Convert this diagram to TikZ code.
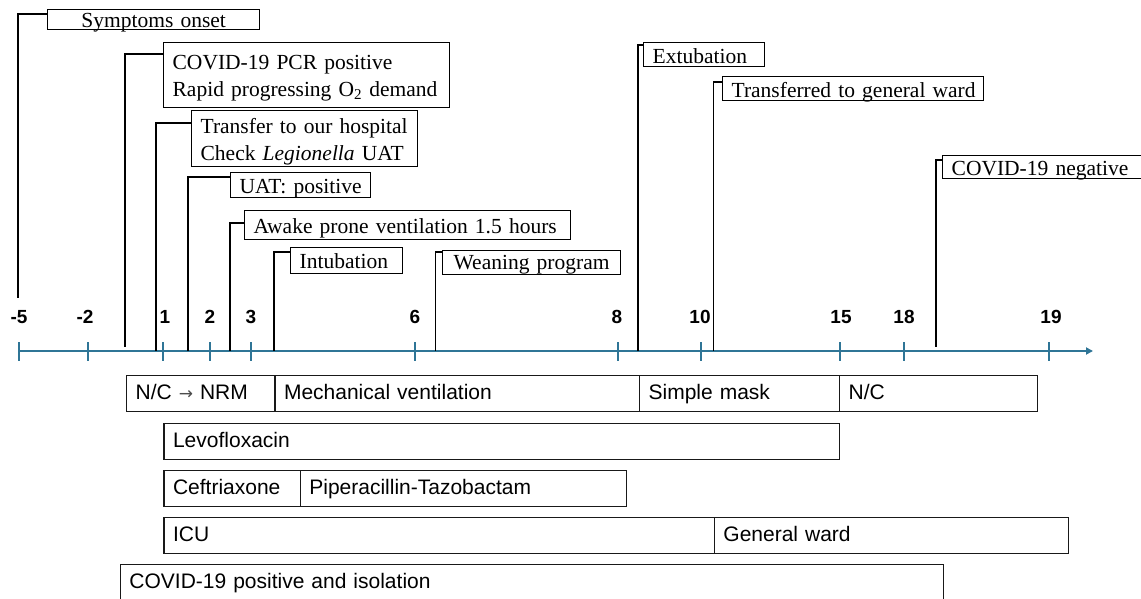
\documentclass[tikz,border=0pt]{standalone}
\usepackage{fontspec}
\setmainfont{Liberation Serif}
\newfontfamily\barfont{Liberation Sans}
\newfontfamily\arrfont{DejaVu Sans}
\usetikzlibrary{arrows.meta}
\definecolor{axisblue}{RGB}{47,117,150}
\begin{document}
\begin{tikzpicture}[x=1pt,y=-1pt,
  evbox/.style={draw=black, line width=1.3pt, anchor=north west, inner ysep=0pt, inner xsep=9pt, align=left, font=\fontsize{21.5}{26.5}\selectfont},
  barbox/.style={draw=black!90, line width=1.3pt, anchor=north west, inner ysep=0pt, inner xsep=9pt, align=left, minimum height=35.5pt, text height=24pt, text depth=11.5pt, font=\barfont\fontsize{21}{25}\selectfont},
  conn/.style={line width=1.2pt, black},
  axisline/.style={axisblue, line width=1.8pt},
  ticklab/.style={font=\barfont\bfseries\fontsize{19}{22}\selectfont, inner sep=0pt}
]
\useasboundingbox (0,0) rectangle (1141,599);

% axis
\coordinate (ax0) at (19,351);
\coordinate (ax1) at (1093,351);
\draw[axisline,-{Triangle[length=7pt,width=7pt]}] (ax0) -- (ax1);
\foreach \x/\lx/\v in {19/19/-5, 88/85/-2, 163/165/1, 210/210/2, 251/251/3, 415/415/6, 618/617/8, 701/700/10, 840/841/15, 904/904/18, 1049/1051/19}{
  \draw[axisline] (\x,342) -- (\x,361);
  \node[ticklab] (lab\x) at (\lx,317) {\v};
}

% event boxes
\node[evbox, align=center, text width=194pt, minimum height=20pt, text height=17.7pt, text depth=2.3pt] (sym) at (47,9) {\mbox{Symptoms onset}};
\node[evbox, text width=268pt, minimum height=65pt, text height=27.3pt, text depth=37.7pt] (pcr) at (163,42) {\mbox{COVID-19 PCR positive}\\\mbox{Rapid progressing O\textsubscript{2} demand}};
\node[evbox, text width=208pt, minimum height=56pt, text height=23.3pt, text depth=32.7pt] (trans) at (191,110) {\mbox{Transfer to our hospital}\\\mbox{Check \textit{Legionella} UAT}};
\node[evbox, text width=122pt, minimum height=25pt, text height=20.7pt, text depth=4.3pt] (uat) at (230,172) {\mbox{UAT: positive}};
\node[evbox, text width=308pt, minimum height=29pt, text height=22.7pt, text depth=6.3pt] (awake) at (244,210) {\mbox{Awake prone ventilation 1.5 hours}};
\node[evbox, text width=94pt, minimum height=26pt, text height=21.3pt, text depth=4.7pt] (intub) at (290,247) {\mbox{Intubation}};
\node[evbox, inner xsep=11pt, text width=156pt, minimum height=24pt, text height=19.3pt, text depth=4.7pt] (wean) at (442,250) {\mbox{Weaning program}};
\node[evbox, text width=103pt, minimum height=24pt, text height=20.7pt, text depth=3.3pt] (extub) at (643,42) {\mbox{Extubation}};
\node[evbox, text width=243pt, minimum height=24pt, text height=20.7pt, text depth=3.3pt] (tgw) at (722,76) {\mbox{Transferred to general ward}};
\node[evbox, text width=185pt, minimum height=23pt, text height=20pt, text depth=3pt] (neg) at (942,155) {\mbox{COVID-19 negative}};

% connector feet
\coordinate (f-sym) at (18,298);
\coordinate (f-pcr) at (125,347);
\coordinate (f-trans) at (156,351);
\coordinate (f-uat) at (188,351);
\coordinate (f-awake) at (230,351);
\coordinate (f-intub) at (274,351);
\coordinate (f-wean) at (435.5,351);
\coordinate (f-extub) at (638,351);
\coordinate (f-tgw) at (713.5,351);
\coordinate (f-neg) at (936,347);

\draw[conn] ([yshift=-5pt]sym.north west) -| (f-sym);
\draw[conn] ([yshift=-12pt]pcr.north west) -| (f-pcr);
\draw[conn] ([yshift=-13pt]trans.north west) -| (f-trans);
\draw[conn] ([yshift=-5pt]uat.north west) -| (f-uat);
\draw[conn] ([yshift=-13pt]awake.north west) -| (f-awake);
\draw[conn] ([yshift=-5pt]intub.north west) -| (f-intub);
\draw[conn] ([yshift=-2pt]wean.north west) -| (f-wean);
\draw[conn] ([yshift=-3pt]extub.north west) -| (f-extub);
\draw[conn] ([yshift=-6pt]tgw.north west) -| (f-tgw);
\draw[conn] ([yshift=-5pt]neg.north west) -| (f-neg);

% bars
\node[barbox, text width=130.4pt] (nrm) at (126,375) {\mbox{N/C {\arrfont\color{black!70}\fontsize{17}{18}\selectfont →} NRM}};
\node[barbox, text width=346.6pt] (mv) at (274.4,375) {\mbox{Mechanical ventilation}};
\node[barbox, text width=182pt] (sm) at (639,375) {\mbox{Simple mask}};
\node[barbox, text width=180pt] (nc) at (839,375) {\mbox{N/C}};
\node[barbox, text width=657.2pt] (levo) at (163.4,423) {\mbox{Levofloxacin}};
\node[barbox, text width=118.3pt] (ceft) at (163.4,470) {\mbox{Ceftriaxone}};
\node[barbox, text width=307.9pt] (pip) at (299.7,470) {\mbox{Piperacillin-Tazobactam}};
\node[barbox, text width=532.4pt] (icu) at (163.4,517) {\mbox{ICU}};
\node[barbox, text width=335.8pt] (gw) at (713.8,517) {\mbox{General ward}};
\node[barbox, text width=804.9pt, minimum height=36pt] (iso) at (119.8,564) {\mbox{COVID-19 positive and isolation}};
\end{tikzpicture}
\end{document}
